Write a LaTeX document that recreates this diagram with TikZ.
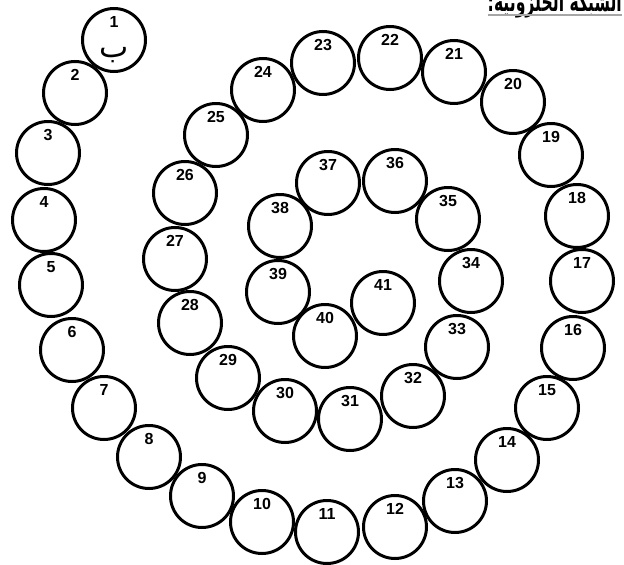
\documentclass[tikz,border=0pt]{standalone}
\usepackage{fontspec}
\setmainfont{Liberation Sans}
\newfontfamily\arabicfont[Script=Arabic]{DejaVu Sans}
\TeXXeTstate=1
\begin{document}
\begin{tikzpicture}[x=1pt,y=-1pt,
  ring/.style={circle,draw,line width=3pt,minimum size=63pt,inner sep=0pt},
  num/.style={font=\fontsize{16}{17}\selectfont\bfseries,inner sep=0pt}]
\useasboundingbox (0,0) rectangle (624,565);
\clip (0,0) rectangle (624,565);
\node[anchor=base east,inner sep=0pt,font=\arabicfont\bfseries\fontsize{27}{30}\selectfont] (title) at (622,11) {\scalebox{0.58}[1]{\beginR الشبكة الحلزونية:\endR}};
\draw[gray!70,line width=1.6pt] (title.base west|-0,15) -- (title.base east|-0,15);
\foreach \n/\x/\y in {1/114/40,2/75/93,3/48/153,4/44/220,5/51/285,6/72/350,7/104/408,8/149/457,9/202/496,10/262/522,11/327/532,12/395/527,13/455/501,14/507/460,15/547/408,16/573/348,17/582/281,18/577/216,19/551/155,20/513/102,21/454/72,22/390/58,23/323/63,24/263/90,25/216/135,26/185/193,27/175/259,28/190/323,29/228/378,30/285/411,31/350/419,32/413/396,33/457/347,34/471/281,35/448/219,36/395/181,37/328/183,38/280/226,39/278/292,40/325/336,41/383/303}{
  \node[ring] (c\n) at (\x,\y) {};
  \node[num] (n\n) at ([yshift=18pt]c\n.center) {\n};
}
\node[inner sep=0pt,font=\arabicfont\fontsize{31}{33}\selectfont] (ba) at ([yshift=-15pt]c1.center) {\beginR ب\endR};
\end{tikzpicture}
\end{document}
